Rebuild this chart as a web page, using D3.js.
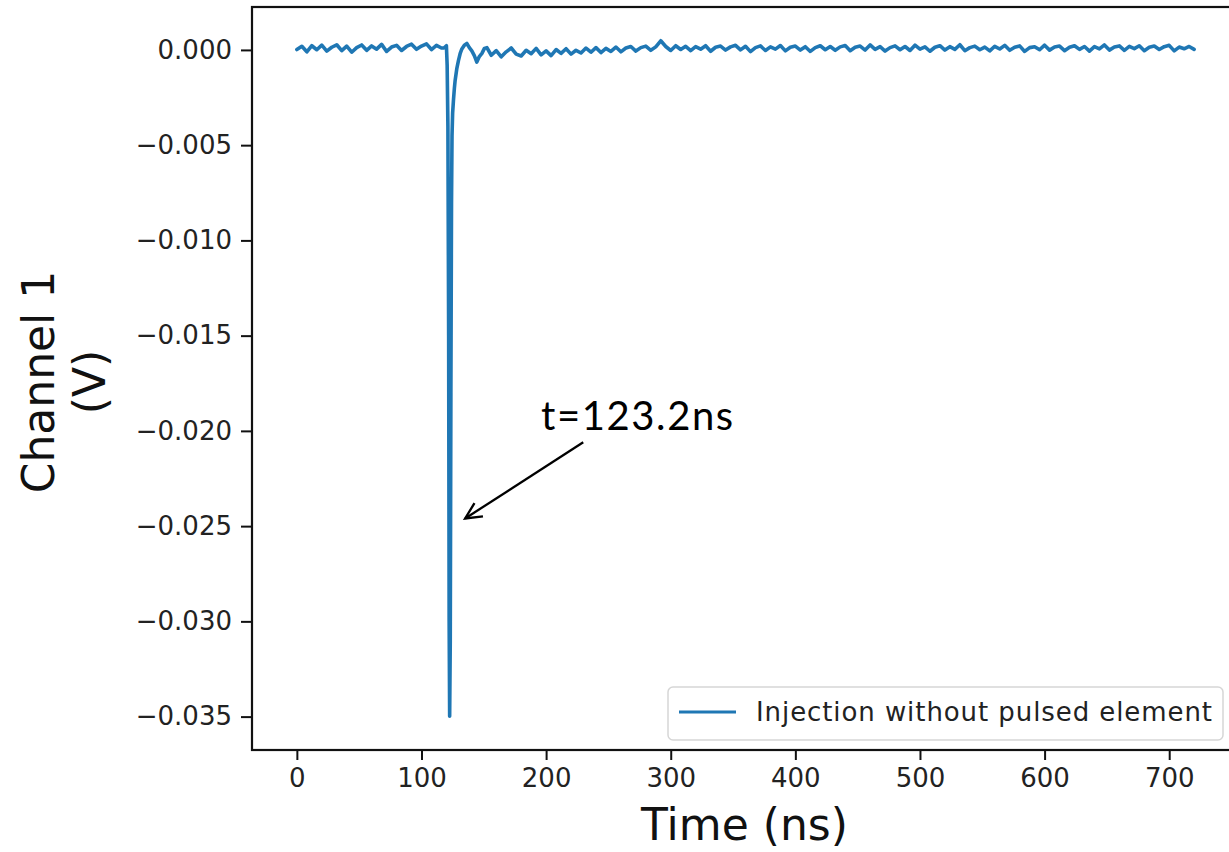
<!DOCTYPE html>
<html>
<head>
<meta charset="utf-8">
<script src="https://cdn.jsdelivr.net/npm/d3@7"></script>
<style>
  body { margin: 0; background: #fff; }
  svg { display: block; }
</style>
</head>
<body>
<div class="container"></div>
<script>
// Size of frame
const width = 1229;
const height = 852;
// Axes box (right spine falls just outside the picture)
const margin = { left: 252, top: 7 };
const plotW = 987;
const plotH = 743;

const lineColor = '#1f77b4';
const lineWidth = 3.6;
const tickFont = 'DejaVu Sans, sans-serif';

// Oscilloscope samples, volts
const sampleStep = 4; // ns between baseline samples
const preStart = 0;
const preVolts = [
  0.00002, 0.00019, -0.00010, 0.00022, 0.00001, 0.00025, -0.00006, 0.00014, 0.00027, -0.00004,
  0.00020, -0.00012, 0.00012, 0.00026, -0.00002, 0.00021, 0.00004, 0.00029, -0.00008, 0.00015,
  0.00024, -0.00003, 0.00018, 0.00030, 0.00003, 0.00020, 0.00032, 0.00002, 0.00024, 0.00010
];
// The pulse, sampled densely
const pulseTimes = [118, 120, 120.6, 121.2, 121.8, 122.2, 122.6, 123.1, 123.6, 124.1, 124.5, 125.0,
  125.7, 126.4, 127.0, 128.3, 129.7, 131.0, 132.4, 134.4, 136.4, 138.4, 140.4, 142.4, 144.4, 146.4,
  148.5, 150.5, 152.5];
const pulseVolts = [0.00010, 0.00022, -0.0008, -0.0040, -0.0150, -0.0300, -0.03498, -0.0310, -0.0180,
  -0.0080, -0.0045, -0.0033, -0.0026, -0.0020, -0.0016, -0.0010, -0.00055, -0.00020, 0.00005, 0.00025,
  0.00034, 0.00012, -0.00005, -0.00030, -0.00064, -0.00035, -0.00018, 0.00008, 0.00012];
const postStart = 156;
const postVolts = [
  -0.00028, -0.00004, -0.00036, -0.00010, 0.00010, -0.00022, -0.00032, -0.00002, -0.00020, 0.00008,
  -0.00026, -0.00005, -0.00030, 0.00002, -0.00018, 0.00006, -0.00022, -0.00002, -0.00016, 0.00010,
  -0.00012, 0.00012, -0.00014, 0.00008, -0.00008, 0.00015, -0.00010, 0.00010, 0.00018, -0.00006,
  0.00012, 0.00020, -0.00002, 0.00016, 0.00048, 0.00018, -0.00003, 0.00022, 0.00002, 0.00019,
  -0.00004, 0.00017, 0.00004, 0.00022, -0.00007, 0.00014, 0.00020, -0.00001, 0.00016, 0.00024,
  0.00000, 0.00019, -0.00009, 0.00012, 0.00021, -0.00003, 0.00016, 0.00004, 0.00023, -0.00005,
  0.00014, 0.00020, -0.00001, 0.00017, -0.00008, 0.00012, 0.00022, 0.00001, 0.00018, -0.00002,
  0.00016, 0.00023, -0.00004, 0.00014, 0.00020, -0.00001, 0.00026, 0.00003, 0.00017, -0.00006,
  0.00012, 0.00021, 0.00001, 0.00018, -0.00003, 0.00025, 0.00004, 0.00016, -0.00007, 0.00014,
  0.00022, -0.00001, 0.00017, 0.00003, 0.00027, -0.00004, 0.00012, 0.00020, 0.00001, 0.00015,
  -0.00005, 0.00019, 0.00005, 0.00024, -0.00002, 0.00014, 0.00021, -0.00008, 0.00012, 0.00017,
  0.00001, 0.00025, -0.00001, 0.00015, 0.00020, -0.00004, 0.00014, 0.00022, 0.00003, 0.00018,
  -0.00006, 0.00017, 0.00005, 0.00026, -0.00001, 0.00015, 0.00021, -0.00002, 0.00019, 0.00007,
  0.00022, -0.00004, 0.00014, 0.00020, 0.00002, 0.00017, 0.00024, -0.00005, 0.00015, 0.00006,
  0.00018, 0.00003
];

// Ticks and labels
const xTicks = [0, 100, 200, 300, 400, 500, 600, 700];
const yTicks = [0, -0.005, -0.010, -0.015, -0.020, -0.025, -0.030, -0.035];
const xLabel = 'Time (ns)';
const yLabel = ['Channel 1', '(V)'];
const legendLabel = 'Injection without pulsed element';
// Hand annotation: text and arrow in data units
const note = { text: 't=123.2ns', t: 196, v: -0.01997, fromT: 229.8, fromV: -0.0206, toT: 135, toV: -0.0246 };

function buildSeries() {
  const pre = preVolts.map((v, i) => ({ t: preStart + i * sampleStep, v }));
  const pulse = pulseTimes.map((t, i) => ({ t, v: pulseVolts[i] }));
  const post = postVolts.map((v, i) => ({ t: postStart + i * sampleStep, v }));
  return pre.concat(pulse, post);
}

function padded(ext) {
  const m = (ext[1] - ext[0]) * 0.05;
  return [ext[0] - m, ext[1] + m];
}

function draw() {
  const data = buildSeries();

  const x = d3.scaleLinear()
    .domain(padded(d3.extent(data, d => d.t)))
    .range([margin.left, margin.left + plotW]);
  const y = d3.scaleLinear()
    .domain(padded(d3.extent(data, d => d.v)))
    .range([margin.top + plotH, margin.top]);

  const svg = d3.select('.container')
    .append('svg')
    .attr('width', width)
    .attr('height', height);

  svg.append('defs').append('clipPath').attr('id', 'plotclip')
    .append('rect')
    .attr('x', margin.left).attr('y', margin.top)
    .attr('width', plotW).attr('height', plotH);

  // trace
  const line = d3.line().x(d => x(d.t)).y(d => y(d.v));
  svg.append('path')
    .datum(data)
    .attr('clip-path', 'url(#plotclip)')
    .attr('d', line)
    .attr('fill', 'none')
    .attr('stroke', lineColor)
    .attr('stroke-width', lineWidth)
    .attr('stroke-linejoin', 'round')
    .attr('stroke-linecap', 'round');

  // x axis
  const xAxis = svg.append('g')
    .attr('transform', `translate(0,${margin.top + plotH})`)
    .call(d3.axisBottom(x).tickValues(xTicks).tickFormat(d3.format('d')).tickSize(10).tickPadding(9));
  // y axis
  const yAxis = svg.append('g')
    .attr('transform', `translate(${margin.left},0)`)
    .call(d3.axisLeft(y).tickValues(yTicks).tickFormat(d3.format('.3f')).tickSize(11).tickPadding(9));

  [xAxis, yAxis].forEach(ax => {
    ax.select('.domain').remove();
    ax.selectAll('.tick line').attr('stroke', '#111').attr('stroke-width', 2);
    ax.selectAll('.tick text')
      .attr('fill', '#222')
      .style('font-family', tickFont)
      .style('font-size', '26px');
  });

  // spines
  svg.append('rect')
    .attr('x', margin.left).attr('y', margin.top)
    .attr('width', plotW).attr('height', plotH)
    .attr('fill', 'none')
    .attr('stroke', '#111')
    .attr('stroke-width', 2.2);

  // axis labels
  svg.append('text')
    .attr('x', margin.left + plotW / 2 - 1)
    .attr('y', 840)
    .attr('text-anchor', 'middle')
    .style('font-family', tickFont)
    .style('font-size', '44px')
    .attr('fill', '#111')
    .text(xLabel);

  const yl = svg.append('text')
    .attr('transform', 'translate(54,382) rotate(-90)')
    .attr('text-anchor', 'middle')
    .style('font-family', tickFont)
    .style('font-size', '44px')
    .attr('fill', '#111');
  yl.selectAll('tspan')
    .data(yLabel)
    .enter()
    .append('tspan')
    .attr('x', 0)
    .attr('dy', (d, i) => i === 0 ? 0 : 51)
    .text(d => d);

  // legend
  const lg = svg.append('g');
  lg.append('rect')
    .attr('x', 668).attr('y', 687)
    .attr('width', 555).attr('height', 53)
    .attr('rx', 5)
    .attr('fill', '#fff')
    .attr('fill-opacity', 0.8)
    .attr('stroke', '#d6d6d6')
    .attr('stroke-width', 1.5);
  lg.append('line')
    .attr('x1', 679).attr('x2', 736)
    .attr('y1', 712).attr('y2', 712)
    .attr('stroke', lineColor)
    .attr('stroke-width', 3);
  lg.append('text')
    .attr('x', 756).attr('y', 721)
    .style('font-family', tickFont)
    .style('font-size', '26px')
    .attr('fill', '#222')
    .attr('textLength', 456)
    .text(legendLabel);

  // annotation
  svg.append('text')
    .attr('x', x(note.t)).attr('y', y(note.v))
    .style('font-family', 'Lato, "Open Sans", sans-serif')
    .style('font-size', '40px')
    .attr('fill', '#000')
    .attr('textLength', 192)
    .text(note.text);

  const x1 = x(note.fromT), y1 = y(note.fromV), x2 = x(note.toT), y2 = y(note.toV);
  const ang = Math.atan2(y2 - y1, x2 - x1);
  const head = 18, spread = 0.45;
  svg.append('line')
    .attr('x1', x1).attr('y1', y1).attr('x2', x2).attr('y2', y2)
    .attr('stroke', '#000').attr('stroke-width', 2.3);
  svg.append('path')
    .attr('d', `M${x2 - head * Math.cos(ang - spread)},${y2 - head * Math.sin(ang - spread)}L${x2},${y2}L${x2 - head * Math.cos(ang + spread)},${y2 - head * Math.sin(ang + spread)}`)
    .attr('fill', 'none')
    .attr('stroke', '#000')
    .attr('stroke-width', 2.3);
}

draw();
</script>
</body>
</html>
